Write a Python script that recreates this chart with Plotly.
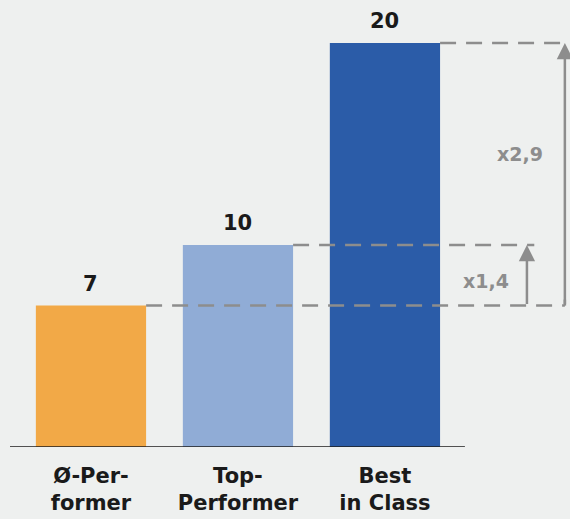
import plotly.graph_objects as go

categories = ["Ø-Per-<br>former", "Top-<br>Performer", "Best<br>in Class"]
values = [7, 10, 20]
colors = ["#f2a947", "#90acd6", "#2b5ca8"]
ratio_labels = ["x1,4", "x2,9"]

BG = "#eef0ef"
GRAY = "#8d8d8d"
xpos = list(range(len(values)))
bw = 0.75

fig = go.Figure()
fig.add_trace(go.Bar(x=xpos, y=values, width=bw, marker=dict(color=colors, line=dict(width=0)),
                     hoverinfo="skip"))

# value labels
for xi, v in zip(xpos, values):
    fig.add_annotation(x=xi, y=v, text=str(v), showarrow=False, yanchor="bottom", yshift=8,
                       font=dict(family="DejaVu Sans", size=21, color="#1a1a1a", weight=600))

# baseline
fig.add_shape(type="line", x0=-0.551, x1=2.544, y0=-0.05, y1=-0.05, xref="x", yref="y",
              line=dict(color="#1c1c1c", width=3.5))

dash = "16px,10px"
x_small = 2.966
x_big = 3.224
# dashed guide lines
fig.add_shape(type="line", x0=0 + bw / 2, x1=x_big, y0=values[0], y1=values[0],
              line=dict(color=GRAY, width=2.5, dash=dash))
fig.add_shape(type="line", x0=1 + bw / 2, x1=x_small + 0.05, y0=values[1], y1=values[1],
              line=dict(color=GRAY, width=2.5, dash=dash))
fig.add_shape(type="line", x0=2 + bw / 2, x1=x_big, y0=values[2], y1=values[2],
              line=dict(color=GRAY, width=2.5, dash=dash))
fig.add_shape(type="line", x0=x_big, x1=x_big, y0=values[0], y1=values[0] + 0.3,
              line=dict(color=GRAY, width=2.5))

# arrows
fig.add_annotation(x=x_small, y=values[1], ax=x_small, ay=values[0], xref="x", yref="y",
                   axref="x", ayref="y", showarrow=True, arrowhead=2, arrowsize=1.3,
                   arrowwidth=2.5, arrowcolor=GRAY, text="")
fig.add_annotation(x=x_big, y=values[2], ax=x_big, ay=values[0], xref="x", yref="y",
                   axref="x", ayref="y", showarrow=True, arrowhead=2, arrowsize=1.3,
                   arrowwidth=2.5, arrowcolor=GRAY, text="")

# ratio labels
fig.add_annotation(x=2.69, y=(values[0] + values[1]) / 2 - 0.3, text=ratio_labels[0],
                   showarrow=False, font=dict(family="DejaVu Sans", size=19, color=GRAY, weight="bold"))
fig.add_annotation(x=2.92, y=14.5, text=ratio_labels[1],
                   showarrow=False, font=dict(family="DejaVu Sans", size=19, color=GRAY, weight="bold"))

fig.update_layout(
    width=570, height=519,
    margin=dict(l=0, r=0, t=0, b=72),
    paper_bgcolor=BG, plot_bgcolor=BG,
    showlegend=False,
    bargap=0.25,
    xaxis=dict(range=[-0.619, 3.259], tickvals=xpos, ticktext=categories, showgrid=False,
               zeroline=False, showline=False, ticks="", ticklabelstandoff=14,
               tickfont=dict(family="DejaVu Sans", size=21, color="#1a1a1a", weight="bold")),
    yaxis=dict(range=[0, 22.13], visible=False, showgrid=False, zeroline=False),
)

fig.write_html("out.html")
